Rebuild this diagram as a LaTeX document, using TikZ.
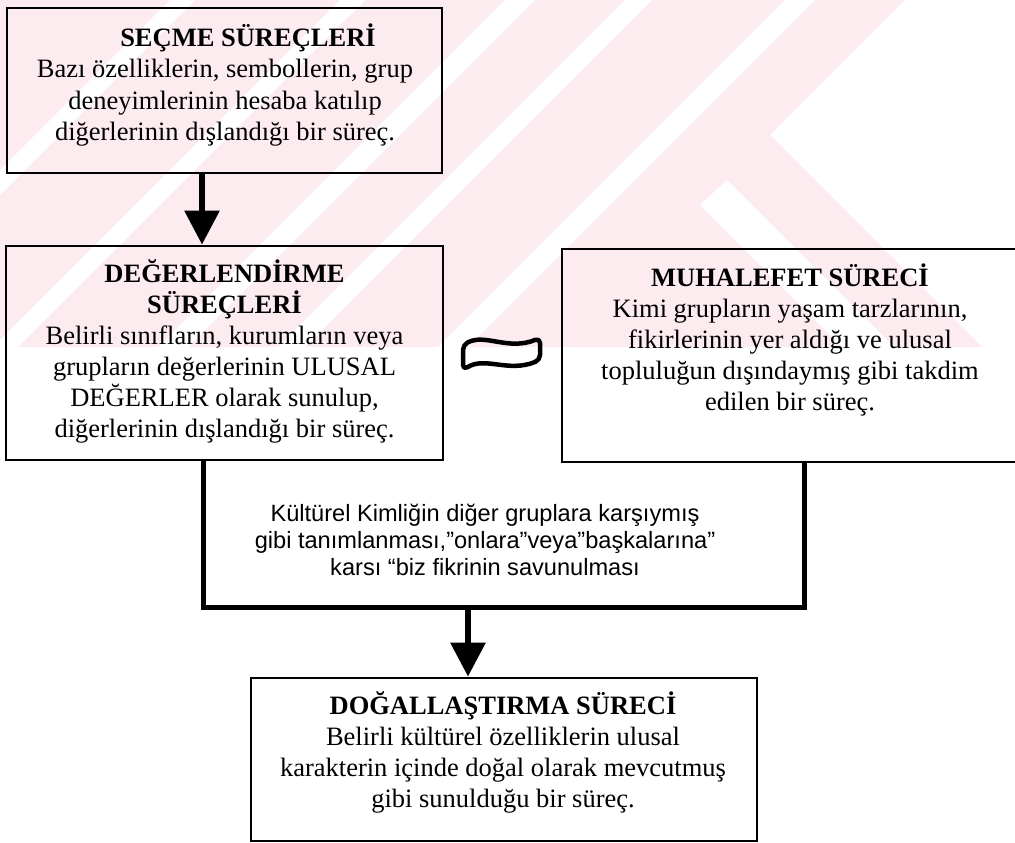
\documentclass[tikz,border=0pt]{standalone}
\usepackage{fontspec}
\setmainfont{Liberation Serif}
\newfontfamily\arialf{Liberation Sans}
\usetikzlibrary{arrows.meta}
\definecolor{wmpink}{RGB}{253,236,239}
\begin{document}
\begin{tikzpicture}[x=1pt,y=-1pt,
  box/.style={draw=black, line width=2.8pt, rectangle, inner sep=0pt},
  serif/.style={font=\fontsize{26.5}{31}\selectfont, align=center, inner sep=0pt},
  sans/.style={font=\arialf\fontsize{23.6}{27}\selectfont, align=center, inner sep=0pt},
  arr/.style={line width=6pt, -{Triangle[length=34pt,width=34pt]}},
  link/.style={line width=5pt, line join=miter},
  flag/.style={line width=4.5pt, line join=round, rounded corners=5pt}
]
\useasboundingbox (0,0) rectangle (1015,843);
% watermark
\begin{scope}
  \clip (0,0) rectangle (1015,347);
  \fill[wmpink] (0,0) -- (905,0) -- (770,135) -- (982,347) -- (0,347) -- cycle;
  \foreach \a/\b in {170/195, 340/365, 505/535, 625/652, 785/815} {
    \fill[white] (\a,0) -- (\b,0) -- (\b-400,400) -- (\a-400,400) -- cycle;
  }
  \fill[white] (727,180) -- (894,347) -- (842,347) -- (700,205) -- cycle;
\end{scope}
% boxes
\node[box, minimum width=435pt, minimum height=165pt] (b1) at (224.5,90.5) {};
\node[box, minimum width=437pt, minimum height=214pt] (b2) at (224.5,353) {};
\node[box, minimum width=468pt, minimum height=213pt] (b3) at (796,355.5) {};
\node[box, minimum width=506pt, minimum height=163pt] (b4) at (504,759.5) {};
% texts
\node[serif, font=\fontsize{26.5}{31.5}\selectfont] (t1) at (225,85) {\hspace*{46pt}\textbf{SEÇME SÜREÇLERİ}\\Bazı özelliklerin, sembollerin, grup\\deneyimlerinin hesaba katılıp\\diğerlerinin dışlandığı bir süreç.};
\node[serif] (t2) at (224.5,351) {\textbf{DEĞERLENDİRME}\\\textbf{SÜREÇLERİ}\\Belirli sınıfların, kurumların veya\\grupların değerlerinin ULUSAL\\DEĞERLER olarak sunulup,\\diğerlerinin dışlandığı bir süreç.};
\node[serif] (t3) at (790,340) {\textbf{MUHALEFET SÜRECİ}\\Kimi grupların yaşam tarzlarının,\\fikirlerinin yer aldığı ve ulusal\\topluluğun dışındaymış gibi takdim\\edilen bir süreç.};
\node[serif] (t4) at (503,752.5) {\textbf{DOĞALLAŞTIRMA SÜRECİ}\\Belirli kültürel özelliklerin ulusal\\karakterin içinde doğal olarak mevcutmuş\\gibi sunulduğu bir süreç.};
\node[sans] (tc) at (485,539.5) {Kültürel Kimliğin diğer gruplara karşıymış\\gibi tanımlanması,”onlara”veya”başkalarına”\\karsı “biz fikrinin savunulması};
% connectors
\coordinate (a1) at (202,0);
\coordinate (jl) at (203,607);
\coordinate (jr) at (804,607);
\coordinate (ja) at (468,607);
\draw[arr] (b1.south -| a1) -- (b2.north -| a1);
\draw[link] (b2.south -| jl) -- (jl) -- (jr) -- (b3.south -| jr);
\draw[arr] (ja) -- (b4.north -| ja);
% equivalence flag
\draw[flag] (463,345) .. controls (485,333) and (508,351) .. (540,338) -- (540,360) .. controls (508,373) and (485,356) .. (463,370) -- cycle;
\end{tikzpicture}
\end{document}
